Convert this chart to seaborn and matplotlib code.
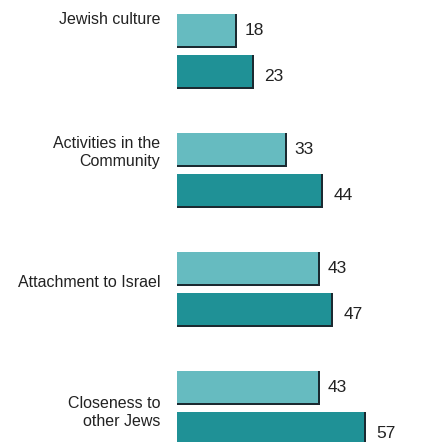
import matplotlib
matplotlib.use("Agg")
import matplotlib.pyplot as plt
from matplotlib.patches import Rectangle
import seaborn as sns
import pandas as pd

# Survey topics and the two series of scores
categories = ["Jewish culture", "Activities in the\nCommunity",
              "Attachment to Israel", "Closeness to\nother Jews"]
series_names = ["Series 1", "Series 2"]
series_1 = [18, 33, 43, 43]
series_2 = [23, 44, 47, 57]

colors = ["#66bbc0", "#1f9196"]
shadow = "#1b2a31"

df = pd.DataFrame({
    "category": categories * 2,
    "series": [series_names[0]] * 4 + [series_names[1]] * 4,
    "value": series_1 + series_2,
})

sns.set_theme(style="white")
plt.rcParams["font.family"] = ["Liberation Sans", "DejaVu Sans"]

fig = plt.figure(figsize=(4.31, 4.42), dpi=100)
ax = fig.add_axes([177 / 431, 0, 1 - 177 / 431, 1])

sns.barplot(data=df, y="category", x="value", hue="series", order=categories,
            hue_order=series_names, palette=colors, saturation=1,
            width=0.69, gap=0.17, orient="h", legend=False, errorbar=None,
            ax=ax, linewidth=0)

ax.set_xlim(0, 77)
ax.set_ylim(3.282, -0.433)
ax.axis("off")

# thickness of the shadow strip in data units (about 2 px each way)
sx, sy = 0.6, 0.017

for cont, dx, dy in zip(ax.containers, [6, 8], [0, -3]):
    for patch, val in zip(cont.patches, cont.datavalues):
        x0, y0 = patch.get_x(), patch.get_y()
        w, h = patch.get_width(), patch.get_height()
        # right edge and lower edge shadow
        ax.add_patch(Rectangle((x0 + w - sx / 2, y0), sx, h, color=shadow,
                               lw=0, zorder=3, clip_on=False))
        ax.add_patch(Rectangle((x0, y0 + h - sy), w + sx / 2, sy, color=shadow,
                               lw=0, zorder=3, clip_on=False))
        ax.annotate(f"{val:.0f}", xy=(x0 + w, y0 + h / 2),
                    xytext=(dx, dy), textcoords="offset points",
                    ha="left", va="center", fontsize=12.5, color="#222222",
                    annotation_clip=False)

# Topic labels to the left of each pair of bars
label_shift = [-0.265, -0.15, -0.055, 0.035]
for i, (name, sh) in enumerate(zip(categories, label_shift)):
    ax.text(-5.15, i + sh, name, ha="right", va="center", fontsize=11.5,
            color="#222222", linespacing=1.3, clip_on=False)

fig.savefig("out.png", dpi=100)
